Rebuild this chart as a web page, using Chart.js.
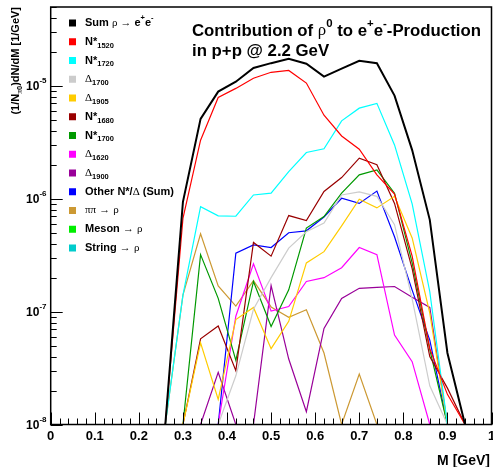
<!DOCTYPE html>
<html><head><meta charset="utf-8">
<script src="https://cdn.jsdelivr.net/npm/chart.js@4/dist/chart.umd.min.js"></script>
<style>html,body{margin:0;padding:0;background:#fff;}</style>
</head><body>
<canvas id="c" width="493" height="467"></canvas>
<script>
// ---------- DATA ----------
const massBins = [0.26,0.30,0.34,0.38,0.42,0.46,0.50,0.54,0.58,0.62,0.66,0.70,0.74,0.78,0.82,0.86,0.90,0.94];
const F = 1e-8; // empty bin / at the lower edge of the plot
const sumRho  = [F,9.4e-7,5.1e-6,8.9e-6,1.09e-5,1.44e-5,1.59e-5,1.74e-5,1.57e-5,1.21e-5,1.42e-5,1.67e-5,1.59e-5,8.2e-6,2.7e-6,6.5e-7,4.3e-8,F];
const n1520   = [F,6.7e-7,3.3e-6,7.9e-6,9.5e-6,1.17e-5,1.32e-5,1.37e-5,1.06e-5,5.5e-6,3.6e-6,2.75e-6,1.63e-6,1.1e-6,3.1e-7,4.7e-8,1.85e-8,F];
const n1720   = [F,1.4e-7,8.5e-7,7.05e-7,7.0e-7,1.08e-6,1.12e-6,1.74e-6,2.57e-6,2.77e-6,4.9e-6,6.35e-6,7.0e-6,3.0e-6,9.0e-7,1.5e-7,F,F];
const d1700   = [F,F,F,F,2.7e-8,1.05e-7,2.0e-7,3.65e-7,5.1e-7,6.1e-7,1.08e-6,1.15e-6,1.05e-6,5.9e-7,1.3e-7,2.2e-8,F,F];
const d1905   = [F,F,5.3e-8,1.67e-8,8.5e-8,1.09e-7,4.7e-8,8.2e-8,2.7e-7,3.4e-7,5.75e-7,9.9e-7,8.3e-7,1.05e-6,4.5e-7,9.7e-8,F,F];
const n1680   = [F,F,5.75e-8,7.45e-8,3.0e-8,4.1e-7,3.1e-7,7.1e-7,6.4e-7,1.16e-6,1.54e-6,2.29e-6,2.0e-6,9.1e-7,2.4e-7,4.0e-8,2.1e-8,F];
const n1700   = [F,F,3.2e-7,1.31e-7,3.7e-8,1.85e-7,7.4e-8,1.56e-7,5.5e-7,6.95e-7,1.12e-6,1.63e-6,1.8e-6,1.12e-6,2.7e-7,4.6e-8,F,F];
const d1620   = [F,F,F,F,9.1e-8,2.65e-7,1.01e-7,1.11e-7,1.85e-7,2.0e-7,2.45e-7,3.7e-7,3.2e-7,6.2e-8,3.6e-8,F,F,F];
const d1900   = [F,F,F,2.9e-8,F,F,1.7e-7,3.8e-8,1.3e-8,7.1e-8,1.31e-7,1.61e-7,1.64e-7,1.67e-7,1.34e-7,1.09e-7,F,F];
const otherND = [F,F,F,F,3.3e-7,3.9e-7,3.7e-7,5.0e-7,5.2e-7,6.9e-7,1.01e-6,9.1e-7,1.17e-6,4.6e-7,1.55e-7,5.6e-8,F,F];
const pipiRho = [F,1.4e-7,4.9e-7,1.69e-7,1.12e-7,1.88e-7,1.1e-7,8.9e-8,1.04e-7,4.3e-8,F,2.8e-8,F,F,F,F,F,F];
const mesonRho = [];
const stringRho = [];

const seriesLabels = ['Sum ρ → e^{+}e^{-}','N*_{1520}','N*_{1720}','Δ_{1700}','Δ_{1905}','N*_{1680}','N*_{1700}','Δ_{1620}','Δ_{1900}','Other N*/Δ (Sum)','ππ → ρ','Meson → ρ','String → ρ'];
const seriesValues = [sumRho,n1520,n1720,d1700,d1905,n1680,n1700,d1620,d1900,otherND,pipiRho,mesonRho,stringRho];
const seriesColors = ['#000000','#ff0000','#00ffff','#cccccc','#ffcc00','#990000','#009900','#ff00ff','#990099','#0000ff','#cc9933','#00ee00','#00cccc'];

const xTickLabels = ['0','0.1','0.2','0.3','0.4','0.5','0.6','0.7','0.8','0.9','1'];
const yTickValues = [1e-8,1e-7,1e-6,1e-5];
const yTickExps = ['-8','-7','-6','-5'];
const titleLines = ['Contribution of ρ^{0} to e^{+}e^{-}-Production','in p+p @ 2.2 GeV'];
const xTitle = 'M [GeV]';
const yTitle = '(1/N_{π0})dN/dM [1/GeV]';

// ---------- RENDER ----------
const SANS = '"Liberation Sans", Arial, Helvetica, sans-serif';
const SYM = '"Liberation Serif", "DejaVu Serif", serif';
const symChars = 'ρπΔ→';
function parseRich(s){
  const out=[]; let i=0;
  while(i<s.length){
    const c=s[i];
    if((c==='_'||c==='^')&&s[i+1]==='{'){
      const j=s.indexOf('}',i); out.push({t:s.slice(i+2,j),lv:c==='^'?1:-1}); i=j+1;
    } else {
      if(out.length&&out[out.length-1].lv===0) out[out.length-1].t+=c; else out.push({t:c,lv:0});
      i++;
    }
  }
  const runs=[];
  out.forEach(seg=>{
    let cur=null;
    for(const ch of seg.t){
      const sym=symChars.includes(ch);
      if(cur&&cur.sym===sym) cur.t+=ch; else {cur={t:ch,lv:seg.lv,sym}; runs.push(cur);}
    }
  });
  return runs;
}
function runFont(r,size){
  const s = r.lv===0?size:size*0.68;
  return (r.sym?'':'bold ')+s.toFixed(1)+'px '+(r.sym?SYM:SANS);
}
function richWidth(ctx,s,size){
  let w=0; parseRich(s).forEach(r=>{ctx.font=runFont(r,size); w+=ctx.measureText(r.t).width;}); return w;
}
function drawRich(ctx,s,x,y,size,align){
  const runs=parseRich(s); const w=richWidth(ctx,s,size);
  let cx = align==='right'?x-w:(align==='center'?x-w/2:x);
  ctx.textBaseline='middle'; ctx.textAlign='left'; ctx.fillStyle='#000';
  runs.forEach(r=>{
    ctx.font=runFont(r,size);
    const dy = r.lv===1?-size*0.42:(r.lv===-1?size*0.34:0);
    ctx.fillText(r.t,cx,y+dy); cx+=ctx.measureText(r.t).width;
  });
}

const rootDeco = {
  id:'rootDeco',
  afterDraw(chart){
    const ctx=chart.ctx, a=chart.chartArea, xs=chart.scales.x, ys=chart.scales.y;
    ctx.save();
    ctx.strokeStyle='#000'; ctx.lineWidth=1;
    ctx.beginPath();
    for(let k=0;k<=50;k++){
      const px=Math.round(xs.getPixelForValue(k*0.02))+0.5;
      const len=(k%5===0)?12:6;
      ctx.moveTo(px,a.bottom); ctx.lineTo(px,a.bottom-len);
    }
    for(let e=-8;e<=-5;e++){
      for(let m=1;m<=9;m++){
        const v=m*Math.pow(10,e);
        if(v>ys.max*1.0001) continue;
        const py=Math.round(ys.getPixelForValue(v))+0.5;
        const len=m===1?12:6;
        ctx.moveTo(a.left,py); ctx.lineTo(a.left+len,py);
      }
    }
    ctx.stroke();
    ctx.lineWidth=1.5;
    ctx.strokeRect(a.left,a.top,a.right-a.left,a.bottom-a.top);
    // x tick labels
    ctx.fillStyle='#000'; ctx.textAlign='center'; ctx.textBaseline='middle';
    ctx.font='bold 13px '+SANS;
    xTickLabels.forEach((t,i)=>{ ctx.fillText(t, xs.getPixelForValue(i/10), a.bottom+12); });
    // y tick labels
    yTickValues.forEach((v,i)=>{
      const py=ys.getPixelForValue(v);
      ctx.font='bold 8px '+SANS; const we=ctx.measureText(yTickExps[i]).width;
      ctx.textBaseline='middle';
      ctx.textAlign='left'; ctx.fillText(yTickExps[i],46.5-we,py-5);
      ctx.font='bold 12px '+SANS; ctx.textAlign='right'; ctx.fillText('10',46.5-we,py+1);
    });
    // legend
    seriesLabels.forEach((lab,i)=>{
      const y=23+18.75*i;
      ctx.fillStyle=seriesColors[i]; ctx.fillRect(69,y-3.5,7,7);
      drawRich(ctx,lab,85,y,11,'left');
    });
    // title
    titleLines.forEach((t,i)=>drawRich(ctx,t,192,31+20*i,16.8,'left'));
    // x title
    drawRich(ctx,xTitle,490,461,14,'right');
    // y title
    ctx.save(); ctx.translate(16,7); ctx.rotate(-Math.PI/2);
    drawRich(ctx,yTitle,0,0,11,'right');
    ctx.restore();
    ctx.restore();
  }
};

const datasets = seriesValues.map((vals,i)=>({
  label: seriesLabels[i],
  data: vals.map((v,j)=>({x:massBins[j],y:v})),
  borderColor: seriesColors[i],
  borderWidth: i===0?2:1.2,
  pointRadius:0, tension:0, fill:false
}));

new Chart(document.getElementById('c'),{
  type:'line',
  data:{datasets},
  options:{
    responsive:false, animation:false, devicePixelRatio:1,
    layout:{padding:{left:0,right:1.5,top:7,bottom:0}},
    plugins:{legend:{display:false},tooltip:{enabled:false},title:{display:false}},
    scales:{
      x:{type:'linear',min:0,max:1,
        grid:{display:false,drawTicks:false},border:{display:false},
        ticks:{display:false,stepSize:0.1},
        afterFit:(s)=>{s.height=42.5;}
      },
      y:{type:'logarithmic',min:1e-8,max:5e-5,
        grid:{display:false},border:{display:false},
        ticks:{display:false},
        afterFit:(s)=>{s.width=50.7;}
      }
    }
  },
  plugins:[rootDeco]
});
</script>
</body></html>
